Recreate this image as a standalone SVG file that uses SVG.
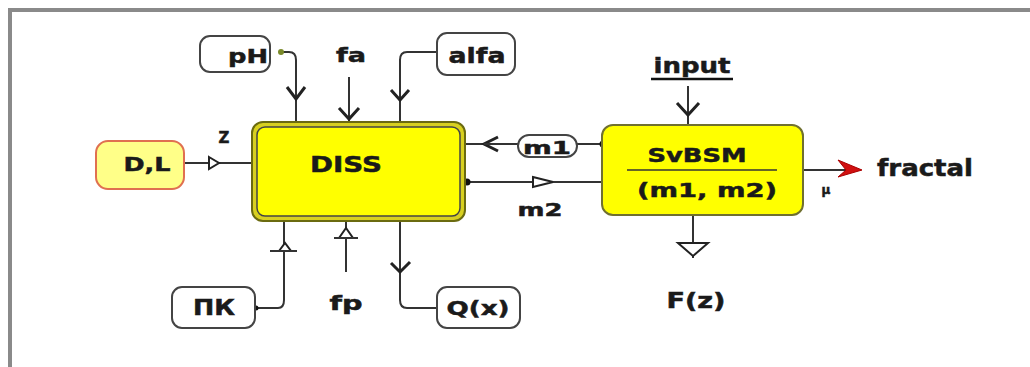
<svg xmlns="http://www.w3.org/2000/svg" width="1030" height="367" viewBox="0 0 1030 367">
<style>
text{font-family:"DejaVu Sans","Verdana",sans-serif;font-weight:bold;fill:#1a1a1a;stroke:#1a1a1a;stroke-width:0.5}
.box{fill:#fff;stroke:#444;stroke-width:2}
.ln{fill:none;stroke:#333;stroke-width:2}
.ah{fill:none;stroke:#222;stroke-width:3;stroke-linejoin:miter}
.tri{fill:#fff;stroke:#222;stroke-width:2}
.dot{fill:#111}
</style>
<rect width="1030" height="367" fill="#fff"/>
<path d="M10,367 V10 H1030" fill="none" stroke="#8a8a8a" stroke-width="4"/>

<g id="connectors">
  <!-- pH -->
  <path class="ln" d="M281,52 H289 Q296,52 296,60 V123"/>
  <path class="ah" d="M287,87 L296,99 L305,87"/>
  <circle cx="281" cy="52" r="3" fill="#7a8a2a"/>
  <!-- fa -->
  <path class="ln" d="M349,77 V122"/>
  <path class="ah" d="M339,108 L349,119 L359,108"/>
  <!-- alfa -->
  <path class="ln" d="M437,52 H407 Q400,52 400,60 V123"/>
  <path class="ah" d="M391,90 L400,100 L409,90"/>
  <!-- D,L -> DISS -->
  <path class="ln" d="M184,163 H258"/>
  <path class="tri" d="M209,157 L219,163 L209,169 Z"/>
  <!-- ПК -->
  <path class="ln" d="M256,308 H278 Q284,308 284,300 V218"/>
  <path class="tri" d="M279,251 L285,243 L291,251 Z"/>
  <path class="ln" d="M270,251 H297"/>
  <circle class="dot" cx="256" cy="308" r="2.5"/>
  <!-- fp -->
  <path class="ln" d="M346,272 V218"/>
  <path class="tri" d="M339,238 L346,228 L353,238 Z"/>
  <path class="ln" d="M334,238 H358"/>
  <!-- Q(x) -->
  <path class="ln" d="M437,308 H407 Q400,308 400,300 V218"/>
  <path class="ah" d="M391,263 L400,272 L410,262"/>
  <circle class="dot" cx="401" cy="218" r="3.5"/>
  <!-- m1 -->
  <path class="ln" d="M603,144 H577 M518,144 H463"/>
  <path class="ah" d="M498,137 L484,144 L498,151"/>
  <path class="ln" d="M484,144 H510" stroke-width="3"/>
  <circle class="dot" cx="603" cy="144" r="3.5"/>
  <!-- m2 -->
  <path class="ln" d="M466,182 H604"/>
  <path class="tri" d="M533,177 L553,182 L533,187 Z"/>
  <circle class="dot" cx="467" cy="182" r="3.5"/>
  <!-- input -->
  <path class="ln" d="M688,86 V125"/>
  <path class="ah" d="M677,103 L688,115 L699,103"/>
  <!-- F(z) -->
  <path class="ln" d="M693,215 V258"/>
  <path class="tri" d="M678,243 H708 L693,256 Z"/>
  <!-- output -->
  <path class="ln" d="M803,170 H852" stroke="#444"/>
  <path d="M838,160 L862,170 L838,177 L846,170 Z" fill="#d01010" stroke="#a00" stroke-width="1"/>
</g>

<g id="label-z"><text x="224" y="143" font-size="15" text-anchor="middle">Z</text></g>

<g id="node-DL">
  <rect x="96" y="141" width="88" height="48" rx="12" fill="#ffff88" stroke="#e07050" stroke-width="2"/>
  <text x="147" y="171" font-size="20" text-anchor="middle" textLength="47" lengthAdjust="spacingAndGlyphs">D,L</text>
</g>

<g id="node-DISS">
  <rect x="252" y="122" width="213" height="99" rx="11" fill="#d8d020" stroke="#6b6b10" stroke-width="2"/>
  <rect x="257" y="127" width="203" height="89" rx="8" fill="#ffff00" stroke="#444" stroke-width="1.5"/>
  <text x="346" y="172" font-size="22" text-anchor="middle" textLength="72" lengthAdjust="spacingAndGlyphs">DISS</text>
</g>

<g id="node-pH">
  <rect class="box" x="200" y="36" width="70" height="36" rx="10"/>
  <text x="248" y="63" font-size="20" text-anchor="middle" textLength="40" lengthAdjust="spacingAndGlyphs">pH</text>
</g>

<g id="node-fa"><text x="351" y="62" font-size="20" text-anchor="middle" textLength="30" lengthAdjust="spacingAndGlyphs">fa</text></g>

<g id="node-alfa">
  <rect class="box" x="437" y="33" width="78" height="42" rx="10"/>
  <text x="477" y="63" font-size="21" text-anchor="middle" textLength="57" lengthAdjust="spacingAndGlyphs">alfa</text>
</g>

<g id="node-PK">
  <rect class="box" x="172" y="287" width="83" height="41" rx="10"/>
  <text x="214" y="315" font-size="21" text-anchor="middle" textLength="42" lengthAdjust="spacingAndGlyphs">ПК</text>
</g>

<g id="node-fp"><text x="346" y="310" font-size="20" text-anchor="middle" textLength="33" lengthAdjust="spacingAndGlyphs">fp</text></g>

<g id="node-Qx">
  <rect class="box" x="437" y="287" width="83" height="41" rx="10"/>
  <text x="478" y="315" font-size="20" text-anchor="middle" textLength="63" lengthAdjust="spacingAndGlyphs">Q(x)</text>
</g>

<g id="node-m1">
  <rect class="box" x="518" y="135" width="59" height="22" rx="11"/>
  <text x="547" y="154" font-size="18" text-anchor="middle" textLength="48" lengthAdjust="spacingAndGlyphs">m1</text>
</g>

<g id="node-m2"><text x="540" y="216" font-size="18" text-anchor="middle" textLength="45" lengthAdjust="spacingAndGlyphs">m2</text></g>

<g id="node-SvBSM">
  <rect x="602" y="125" width="201" height="90" rx="11" fill="#ffff00" stroke="#707030" stroke-width="2"/>
  <text x="697" y="162" font-size="19" text-anchor="middle" textLength="99" lengthAdjust="spacingAndGlyphs">SvBSM</text>
  <path d="M627,170 H777" stroke="#333" stroke-width="1.5"/>
  <text x="707" y="197" font-size="20" text-anchor="middle" textLength="140" lengthAdjust="spacingAndGlyphs">(m1, m2)</text>
</g>

<g id="node-input">
  <text x="692" y="73" font-size="22" text-anchor="middle" textLength="77" lengthAdjust="spacingAndGlyphs">input</text>
  <path d="M651,79 H733" stroke="#111" stroke-width="2.5"/>
</g>

<g id="node-Fz"><text x="696" y="308" font-size="21" text-anchor="middle" textLength="59" lengthAdjust="spacingAndGlyphs">F(z)</text></g>

<g id="node-fractal"><text x="877" y="176" font-size="23" textLength="96" lengthAdjust="spacingAndGlyphs">fractal</text></g>

<g id="node-mu"><text x="826" y="194" font-size="12" text-anchor="middle" stroke-width="0.3">μ</text></g>
</svg>
